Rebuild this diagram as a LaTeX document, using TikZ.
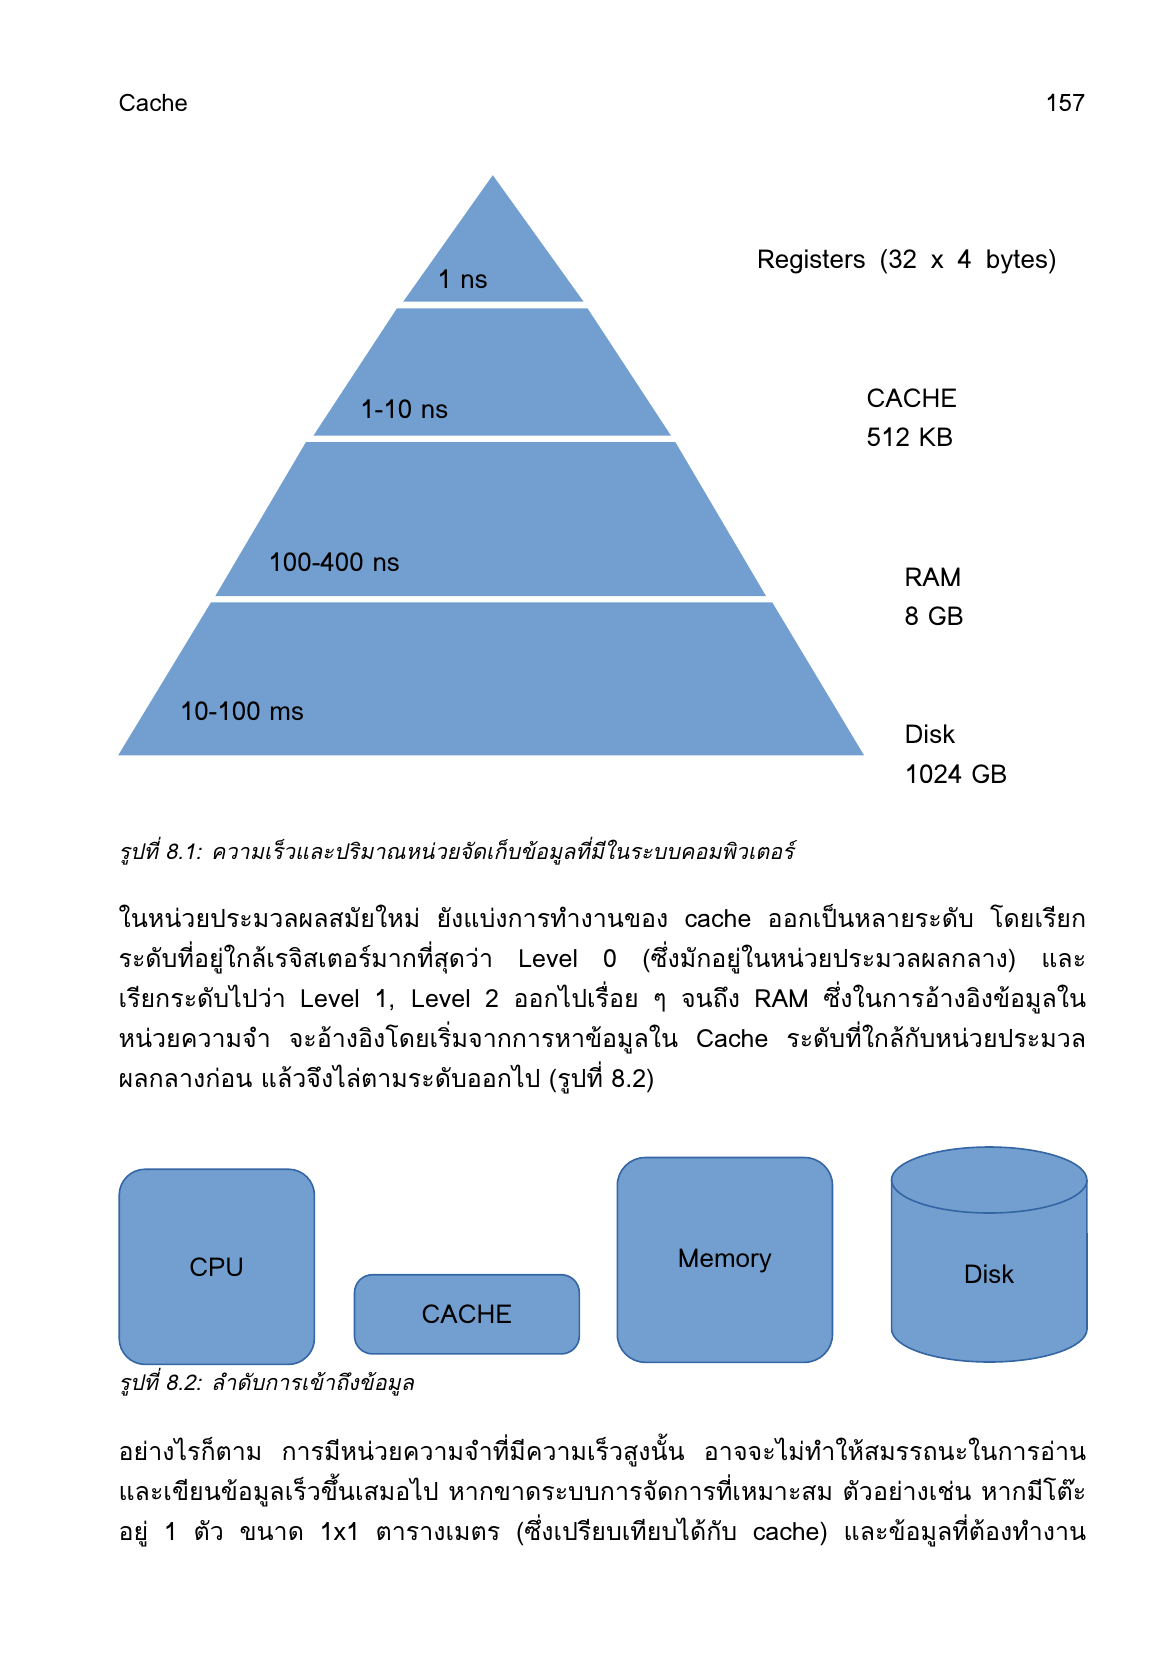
\documentclass[tikz,border=0pt]{standalone}
\usepackage{fontspec}
\setmainfont[Script=Thai]{Loma}
\usetikzlibrary{positioning}
\definecolor{tierblue}{HTML}{729FCF}
\definecolor{edgeblue}{HTML}{3465A4}

\begin{document}
\begin{tikzpicture}[
  x=0.5pt, y=-0.5pt,
  tier/.style={fill=tierblue},
  pagehead/.style={inner sep=0pt, font=\fontsize{12}{14}\selectfont},
  timelabel/.style={anchor=base west, inner sep=0pt,
                    font=\fontsize{13}{15}\selectfont},
  sizelabel/.style={anchor=base west, inner sep=0pt,
                    font=\fontsize{13}{15}\selectfont},
  caption/.style={anchor=base west, inner sep=0pt,
                  font=\fontsize{10.8}{13}\selectfont\itshape},
  bodyline/.style={anchor=base west, inner sep=0pt,
                   font=\fontsize{12.5}{15}\selectfont},
  unit/.style={draw=edgeblue, fill=tierblue, line width=0.8pt,
               inner sep=0pt, font=\fontsize{13}{15}\selectfont}
]
\useasboundingbox (0,0) rectangle (1166,1654);
% running head
\node[pagehead, anchor=base west] (head)  at (118.2,111.9)  {Cache};
\node[pagehead, anchor=base east] (folio) at (1085.8,111.9) {157};
% pyramid tiers
\fill[tier] (492.8,175.2) -- (583.6,301.7) -- (403.2,301.7) -- cycle;
\fill[tier] (397.0,308.3) -- (587.5,308.3) -- (671.0,435.7) -- (313.4,435.7) -- cycle;
\fill[tier] (306.0,442.0) -- (675.3,442.0) -- (766.0,596.1) -- (215.3,596.1) -- cycle;
\fill[tier] (211.0,602.3) -- (772.2,602.3) -- (864.0,755.3) -- (118.2,755.3) -- cycle;
% access times
\node[timelabel] (t0) at (436.9,288.0) {1 ns};
\node[timelabel] (t1) at (359.8,418.9) {1-10 ns};
\node[timelabel] (t2) at (268.0,571.9) {100-400 ns};
\node[timelabel] (t3) at (179.4,720.7) {10-100 ms};
% capacities
\node[sizelabel] (reg)   at (756.6,268.0) {\makebox[149.9pt][s]{Registers (32 x 4 bytes)}};
\node[sizelabel] (cache) at (866.3,407.3) {CACHE};
\node[sizelabel] (cacheb) at (866.3,446.4) {512 KB};
\node[sizelabel] (ram)   at (904.3,586.7) {RAM};
\node[sizelabel] (ramb)  at (904.3,625.7) {8 GB};
\node[sizelabel] (disk)  at (904.3,743.9) {Disk};
\node[sizelabel] (diskb) at (904.3,783.0) {1024 GB};
% figure 8.1 caption
\node[caption] (cap1) at (118.2,859.0)
  {รูปที่ 8.1: ความเร็วและปริมาณหน่วยจัดเก็บข้อมูลที่มีในระบบคอมพิวเตอร์};
% paragraph
\node[bodyline] (p1) at (118.2,927.5) {\makebox[483.8pt][s]{ในหน่วยประมวลผลสมัยใหม่ ยังแบ่งการทำงานของ cache ออกเป็นหลายระดับ โดยเรียก}};
\node[bodyline] (p2) at (118.2,967.6) {\makebox[483.8pt][s]{ระดับที่อยู่ใกล้เรจิสเตอร์มากที่สุดว่า Level 0 (ซึ่งมักอยู่ในหน่วยประมวลผลกลาง) และ}};
\node[bodyline] (p3) at (118.2,1007.7) {\makebox[483.8pt][s]{เรียกระดับไปว่า Level 1, Level 2 ออกไปเรื่อย ๆ จนถึง RAM ซึ่งในการอ้างอิงข้อมูลใน}};
\node[bodyline] (p4) at (118.2,1047.8) {\makebox[483.8pt][s]{หน่วยความจำ จะอ้างอิงโดยเริ่มจากการหาข้อมูลใน Cache ระดับที่ใกล้กับหน่วยประมวล}};
\node[bodyline] (p5) at (118.2,1087.9) {ผลกลางก่อน แล้วจึงไล่ตามระดับออกไป (รูปที่ 8.2)};
% access order
\node[unit, rounded corners=13pt, minimum width=97.6pt, minimum height=97.6pt]
  (cpu) at (216.8,1266.8) {CPU};
\node[unit, rounded corners=9pt, minimum width=112.4pt, minimum height=39.6pt]
  (l1) at (466.9,1314.3) {CACHE};
\node[unit, rounded corners=14pt, minimum width=107.6pt, minimum height=102.4pt,
      text depth=2pt]
  (mem) at (724.9,1259.9) {Memory};
% disk drum
\filldraw[draw=edgeblue, fill=tierblue, line width=0.8pt]
  (891.6,1180) -- (891.6,1329)
  arc[start angle=180, end angle=0, x radius=97.7, y radius=33]
  -- (1086.9,1180)
  arc[start angle=0, end angle=-180, x radius=97.7, y radius=33] -- cycle;
\draw[draw=edgeblue, line width=0.8pt]
  (891.6,1180) arc[start angle=180, end angle=0, x radius=97.7, y radius=33];
\node[inner sep=0pt, font=\fontsize{13}{15}\selectfont] (drum) at (989.2,1274.7) {Disk};
% figure 8.2 caption
\node[caption] (cap2) at (118.2,1390.0) {รูปที่ 8.2: ลำดับการเข้าถึงข้อมูล};
% paragraph
\node[bodyline] (q1) at (118.2,1460.5) {\makebox[483.8pt][s]{อย่างไรก็ตาม การมีหน่วยความจำที่มีความเร็วสูงนั้น อาจจะไม่ทำให้สมรรถนะในการอ่าน}};
\node[bodyline] (q2) at (118.2,1500.6) {\makebox[483.8pt][s]{และเขียนข้อมูลเร็วขึ้นเสมอไป หากขาดระบบการจัดการที่เหมาะสม ตัวอย่างเช่น หากมีโต๊ะ}};
\node[bodyline] (q3) at (118.2,1540.7) {\makebox[483.8pt][s]{อยู่ 1 ตัว ขนาด 1x1 ตารางเมตร (ซึ่งเปรียบเทียบได้กับ cache) และข้อมูลที่ต้องทำงาน}};
\end{tikzpicture}
\end{document}
